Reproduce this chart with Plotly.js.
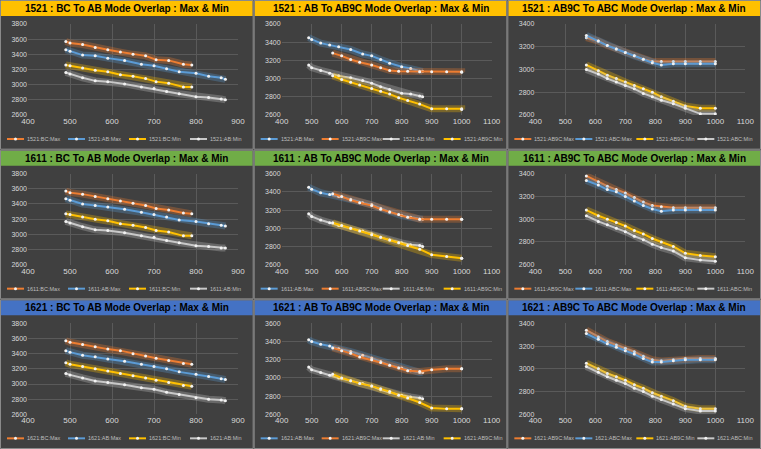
<!DOCTYPE html>
<html><head><meta charset="utf-8">
<script src="https://cdn.plot.ly/plotly-3.0.1.min.js"></script>
<style>html,body{margin:0;padding:0;background:#404040}#chart{width:761px;height:449px}</style>
</head><body><div id="chart"></div>
<script>
// x positions
var xBC = [490, 500, 530, 560, 590, 620, 650, 680, 705, 735, 770, 790];
var xAB = [490, 500, 530, 560, 590, 630, 670, 700, 730, 760, 800, 830, 860, 870];
var xAB9C = [570, 600, 630, 660, 700, 730, 760, 790, 820, 860, 900, 950, 1000, 1000];
var xC3 = [570, 610, 640, 670, 700, 730, 760, 790, 820, 860, 900, 950, 1000];

// row 1521
var r1c1BCMax = [3570, 3550, 3530, 3490, 3460, 3430, 3400, 3380, 3330, 3320, 3270, 3260];
var r1c1ABMax = [3460, 3440, 3390, 3380, 3350, 3320, 3270, 3250, 3210, 3170, 3150, 3110, 3090, 3070];
var r1c1BCMin = [3260, 3250, 3220, 3190, 3170, 3130, 3110, 3080, 3040, 3020, 2970, 2970];
var r1c1ABMin = [3160, 3140, 3090, 3050, 3040, 3010, 2970, 2950, 2910, 2880, 2840, 2830, 2810, 2800];
var r1c2ABMax = [3450, 3430, 3390, 3370, 3350, 3320, 3270, 3250, 3210, 3170, 3130, 3110, 3080, 3080];
var r1c2AB9CMax = [3280, 3250, 3210, 3180, 3150, 3120, 3090, 3080, 3080, 3075, 3075, 3075, 3075, 3070];
var r1c2ABMin = [3150, 3120, 3090, 3060, 3030, 3010, 2980, 2950, 2910, 2880, 2840, 2830, 2810, 2800];
var r1c2AB9CMin = [3030, 2990, 2960, 2930, 2890, 2860, 2830, 2790, 2760, 2720, 2670, 2670, 2670, 2660];
var r1c3AB9CMax = [3280, 3250, 3210, 3180, 3150, 3120, 3090, 3070, 3070, 3070, 3070, 3070, 3070];
var r1c3ABCMax = [3300, 3250, 3210, 3180, 3150, 3120, 3090, 3060, 3040, 3050, 3050, 3050, 3050];
var r1c3AB9CMin = [3040, 2990, 2950, 2920, 2890, 2860, 2830, 2800, 2760, 2720, 2680, 2660, 2660];
var r1c3ABCMin = [3000, 2960, 2920, 2890, 2860, 2830, 2790, 2760, 2730, 2700, 2660, 2610, 2610];

// row 1611
var r2c1BCMax = [3570, 3550, 3530, 3500, 3470, 3440, 3410, 3380, 3340, 3320, 3280, 3270];
var r2c1ABMax = [3470, 3450, 3400, 3380, 3360, 3330, 3290, 3260, 3230, 3190, 3170, 3140, 3120, 3110];
var r2c1BCMin = [3270, 3260, 3230, 3200, 3180, 3140, 3120, 3090, 3050, 3030, 2980, 2980];
var r2c1ABMin = [3170, 3150, 3100, 3060, 3050, 3020, 2980, 2960, 2920, 2890, 2850, 2840, 2820, 2820];
var r2c2ABMax = [3450, 3430, 3390, 3370, 3350, 3320, 3280, 3260, 3220, 3180, 3140, 3120, 3100, 3100];
var r2c2AB9CMax = [3380, 3350, 3310, 3280, 3250, 3210, 3180, 3150, 3120, 3100, 3100, 3100, 3100, 3100];
var r2c2ABMin = [3160, 3130, 3090, 3060, 3030, 3000, 2970, 2940, 2900, 2870, 2840, 2820, 2810, 2800];
var r2c2AB9CMin = [3060, 3030, 3000, 2970, 2930, 2900, 2870, 2840, 2810, 2770, 2710, 2690, 2670, 2670];
var r2c3AB9CMax = [3380, 3330, 3290, 3260, 3230, 3190, 3150, 3120, 3110, 3100, 3100, 3100, 3100];
var r2c3ABCMax = [3340, 3300, 3260, 3240, 3200, 3160, 3120, 3090, 3070, 3080, 3080, 3080, 3080];
var r2c3AB9CMin = [3080, 3030, 3000, 2970, 2940, 2900, 2870, 2830, 2800, 2760, 2700, 2680, 2670];
var r2c3ABCMin = [3030, 2980, 2950, 2920, 2890, 2850, 2820, 2780, 2750, 2720, 2660, 2640, 2630];

// row 1621
var r3c1BCMax = [3570, 3550, 3520, 3490, 3460, 3440, 3400, 3370, 3340, 3310, 3270, 3260];
var r3c1ABMax = [3440, 3420, 3380, 3360, 3330, 3300, 3260, 3230, 3200, 3160, 3130, 3100, 3070, 3060];
var r3c1BCMin = [3280, 3260, 3230, 3200, 3170, 3140, 3110, 3080, 3050, 3020, 2980, 2970];
var r3c1ABMin = [3140, 3120, 3080, 3040, 3020, 2990, 2950, 2930, 2890, 2860, 2820, 2800, 2790, 2780];
var r3c2ABMax = [3420, 3400, 3370, 3350, 3320, 3290, 3250, 3220, 3180, 3140, 3110, 3080, 3060, 3060];
var r3c2AB9CMax = [3330, 3300, 3270, 3230, 3200, 3170, 3140, 3110, 3080, 3070, 3090, 3100, 3100, 3100];
var r3c2ABMin = [3120, 3090, 3060, 3030, 3000, 2970, 2940, 2910, 2870, 2840, 2810, 2790, 2780, 2770];
var r3c2AB9CMin = [3040, 3000, 2970, 2940, 2910, 2880, 2850, 2810, 2780, 2730, 2670, 2660, 2660, 2660];
var r3c3AB9CMax = [3340, 3280, 3240, 3210, 3180, 3150, 3110, 3080, 3070, 3080, 3090, 3090, 3090];
var r3c3ABCMax = [3310, 3260, 3220, 3190, 3160, 3130, 3090, 3060, 3060, 3070, 3080, 3080, 3080];
var r3c3AB9CMin = [3050, 3000, 2960, 2930, 2900, 2860, 2830, 2790, 2760, 2720, 2670, 2650, 2650];
var r3c3ABCMin = [3020, 2970, 2930, 2900, 2870, 2830, 2800, 2760, 2730, 2690, 2650, 2630, 2630];

var rowNames = ['1521', '1611', '1621'];
var barColors = ['#ffc000', '#70ad47', '#4472c4'];
var colTitles = [' : BC To AB Mode Overlap : Max & Min', ' : AB To AB9C Mode Overlap : Max & Min', ' : AB9C To ABC Mode Overlap : Max & Min'];
var xRanges = [[400, 900], [400, 1100], [400, 1100]];
var yRanges = [[2600, 3800], [2600, 3600], [2600, 3400]];

var ORANGE = '#ed7d31', BLUE = '#5b9bd5', YELLOW = '#ffc000', GRAY = '#c8c8c8';

var panels = [
  [
    [['BC:Max', xBC, r1c1BCMax, ORANGE], ['AB:Max', xAB, r1c1ABMax, BLUE], ['BC:Min', xBC, r1c1BCMin, YELLOW], ['AB:Min', xAB, r1c1ABMin, GRAY]],
    [['AB:Max', xAB, r1c2ABMax, BLUE], ['AB9C:Max', xAB9C, r1c2AB9CMax, ORANGE], ['AB:Min', xAB, r1c2ABMin, GRAY], ['AB9C:Min', xAB9C, r1c2AB9CMin, YELLOW]],
    [['AB9C:Max', xC3, r1c3AB9CMax, ORANGE], ['ABC:Max', xC3, r1c3ABCMax, BLUE], ['AB9C:Min', xC3, r1c3AB9CMin, YELLOW], ['ABC:Min', xC3, r1c3ABCMin, GRAY]]
  ],
  [
    [['BC:Max', xBC, r2c1BCMax, ORANGE], ['AB:Max', xAB, r2c1ABMax, BLUE], ['BC:Min', xBC, r2c1BCMin, YELLOW], ['AB:Min', xAB, r2c1ABMin, GRAY]],
    [['AB:Max', xAB, r2c2ABMax, BLUE], ['AB9C:Max', xAB9C, r2c2AB9CMax, ORANGE], ['AB:Min', xAB, r2c2ABMin, GRAY], ['AB9C:Min', xAB9C, r2c2AB9CMin, YELLOW]],
    [['AB9C:Max', xC3, r2c3AB9CMax, ORANGE], ['ABC:Max', xC3, r2c3ABCMax, BLUE], ['AB9C:Min', xC3, r2c3AB9CMin, YELLOW], ['ABC:Min', xC3, r2c3ABCMin, GRAY]]
  ],
  [
    [['BC:Max', xBC, r3c1BCMax, ORANGE], ['AB:Max', xAB, r3c1ABMax, BLUE], ['BC:Min', xBC, r3c1BCMin, YELLOW], ['AB:Min', xAB, r3c1ABMin, GRAY]],
    [['AB:Max', xAB, r3c2ABMax, BLUE], ['AB9C:Max', xAB9C, r3c2AB9CMax, ORANGE], ['AB:Min', xAB, r3c2ABMin, GRAY], ['AB9C:Min', xAB9C, r3c2AB9CMin, YELLOW]],
    [['AB9C:Max', xC3, r3c3AB9CMax, ORANGE], ['ABC:Max', xC3, r3c3ABCMax, BLUE], ['AB9C:Min', xC3, r3c3AB9CMin, YELLOW], ['ABC:Min', xC3, r3c3ABCMin, GRAY]]
  ]
];

var W = 761, H = 449, PW = W / 3, PH = H / 3;
var traces = [];
var layout = {
  width: W, height: H, showlegend: false,
  margin: { t: 0, r: 0, b: 0, l: 0, autoexpand: false },
  paper_bgcolor: '#404040', plot_bgcolor: '#404040',
  font: { family: 'Arial, "Liberation Sans", sans-serif', color: '#d9d9d9', size: 8 },
  shapes: [], annotations: []
};
function px(x) { return x / W; }
function py(y) { return 1 - y / H; }

panels.forEach(function (row, r) {
  row.forEach(function (series, c) {
    var n = r * 3 + c + 1;
    var ax = n === 1 ? '' : n;
    var x0 = c * PW, y0 = r * PH;
    layout['xaxis' + ax] = {
      domain: [px(x0 + 28), px(x0 + 238)],
      anchor: 'y' + ax, range: xRanges[c], dtick: 100,
      showgrid: true, gridcolor: '#5a5a5a', zeroline: false, tickangle: 0,
      showline: false, ticks: '', tickfont: { size: 8, color: '#d9d9d9' }
    };
    layout['yaxis' + ax] = {
      domain: [py(y0 + 115), py(y0 + 24)],
      anchor: 'x' + ax, range: yRanges[c], dtick: 200,
      showgrid: true, gridcolor: '#5a5a5a', zeroline: false,
      ticks: '', tickfont: { size: 7, color: '#d9d9d9' }
    };
    // title bar and panel border
    layout.shapes.push({
      type: 'rect', xref: 'paper', yref: 'paper',
      x0: px(x0 + 1), x1: px(x0 + PW - 1), y0: py(y0 + 16), y1: py(y0 + 1),
      fillcolor: barColors[r], line: { width: 0 }
    });
    layout.shapes.push({
      type: 'rect', xref: 'paper', yref: 'paper',
      x0: px(x0 + 0.5), x1: px(x0 + PW - 0.5), y0: py(y0 + PH - 0.5), y1: py(y0 + 0.5),
      line: { width: 1, color: '#8a8a8a' }
    });
    layout.annotations.push({
      xref: 'paper', yref: 'paper', x: px(x0 + PW / 2), y: py(y0 + 8.5),
      xanchor: 'center', yanchor: 'middle',
      text: '<b>' + rowNames[r] + colTitles[c] + '</b>', showarrow: false,
      font: { size: 10, color: '#000000', family: 'Arial, sans-serif' }
    });
    series.forEach(function (s, k) {
      var name = rowNames[r] + ':' + s[0];
      traces.push({
        type: 'scatter', mode: 'lines', x: s[1], y: s[2],
        xaxis: 'x' + ax, yaxis: 'y' + ax, hoverinfo: 'skip',
        line: { color: s[3], width: 7 }, opacity: 0.3
      });
      traces.push({
        type: 'scatter', mode: 'lines+markers', x: s[1], y: s[2],
        xaxis: 'x' + ax, yaxis: 'y' + ax, name: name,
        line: { color: s[3], width: 2 },
        marker: { size: 3, color: '#f2f2f2' }
      });
      // legend entry
      var lx = x0 + 7 + k * 61, ly = y0 + 139;
      layout.shapes.push({
        type: 'line', xref: 'paper', yref: 'paper',
        x0: px(lx), x1: px(lx + 17), y0: py(ly), y1: py(ly),
        line: { color: s[3], width: 2 }
      });
      layout.shapes.push({
        type: 'circle', xref: 'paper', yref: 'paper',
        x0: px(lx + 7), x1: px(lx + 10), y0: py(ly + 1.5), y1: py(ly - 1.5),
        fillcolor: '#f2f2f2', line: { width: 0 }
      });
      layout.annotations.push({
        xref: 'paper', yref: 'paper', x: px(lx + 18), y: py(ly),
        xanchor: 'left', yanchor: 'middle', showarrow: false,
        text: name, font: { size: 5.5, color: '#bfbfbf' }
      });
    });
  });
});

Plotly.newPlot('chart', traces, layout, { displayModeBar: false, staticPlot: true });
</script>
</body></html>
